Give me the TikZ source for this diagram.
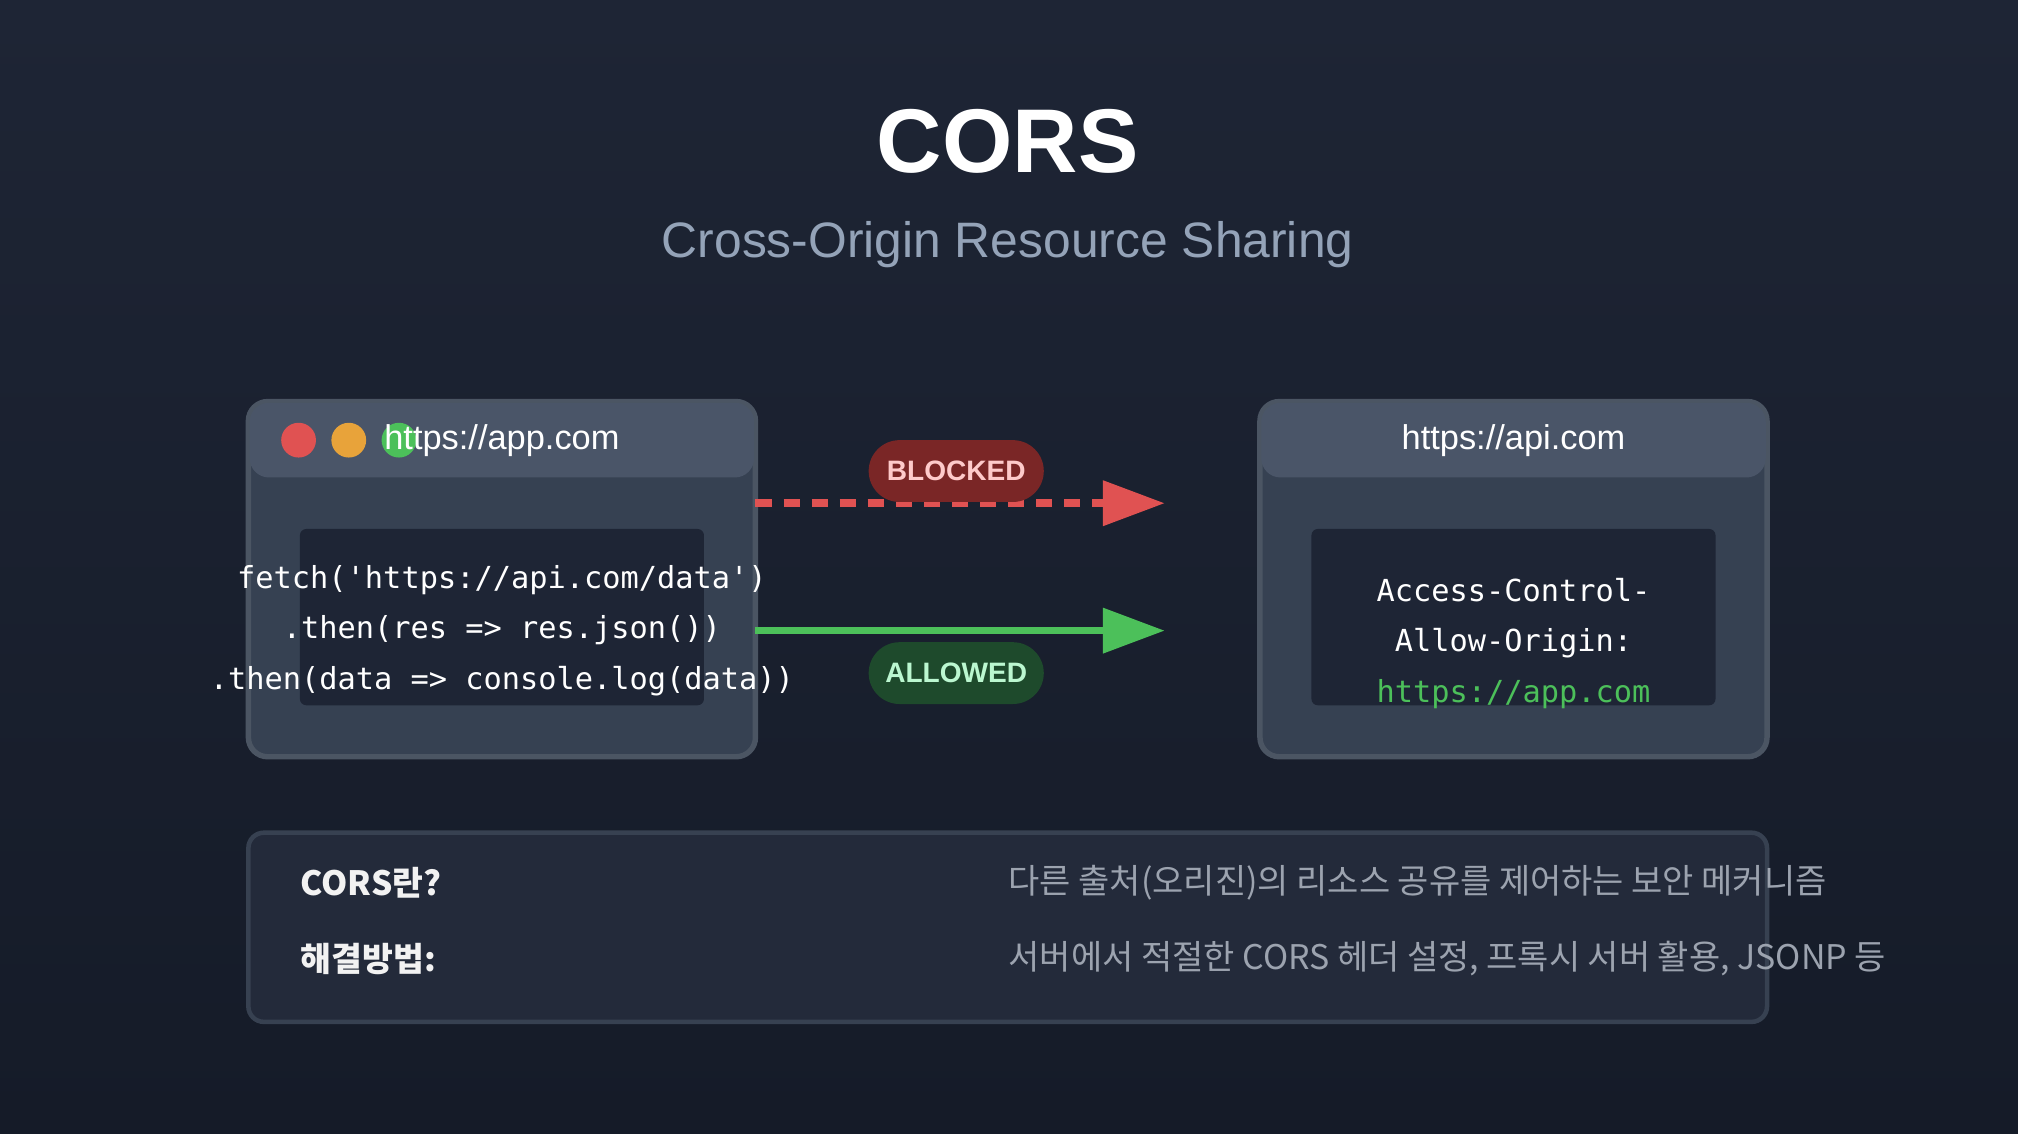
\documentclass[tikz,border=0pt]{standalone}
\usepackage{fontspec}
\setmainfont{Liberation Sans}
\newfontfamily\kr{Noto Sans CJK KR}
\newfontfamily\monof{DejaVu Sans Mono}
\usetikzlibrary{arrows.meta}
\definecolor{bgtop}{HTML}{1E2535}
\definecolor{bgbot}{HTML}{151B28}
\definecolor{win}{HTML}{364152}
\definecolor{winbd}{HTML}{4B5563}
\definecolor{hdr}{HTML}{4A5568}
\definecolor{codebg}{HTML}{1E2535}
\definecolor{sub}{HTML}{94A3B8}
\definecolor{redc}{HTML}{E05252}
\definecolor{orgc}{HTML}{E8A33A}
\definecolor{grnc}{HTML}{4CC05A}
\definecolor{infobg}{HTML}{232A3A}
\definecolor{infobd}{HTML}{374151}
\definecolor{desc}{HTML}{9CA3AF}
\definecolor{blkbg}{HTML}{7A2626}
\definecolor{blktx}{HTML}{FECACA}
\definecolor{alwbg}{HTML}{1E4A2C}
\definecolor{alwtx}{HTML}{BBF7D0}
\tikzset{
  x=0.01cm,y=-0.01cm,
  winbox/.style={draw=winbd,line width=1.2pt,fill=win,rounded corners=0.15cm},
  codebox/.style={fill=codebg,rounded corners=0.05cm},
  urltxt/.style={text=white,font=\fontsize{7.6pt}{9pt}\selectfont},
  codetxt/.style={text=white,font=\monof\fontsize{6.7pt}{11.1pt}\selectfont,align=center},
  pill/.style={rounded corners=0.24cm,minimum width=1.36cm,minimum height=0.48cm,font=\bfseries\fontsize{6.2pt}{7pt}\selectfont},
  lbl/.style={anchor=west,inner sep=0pt,text=white!90!gray,font=\kr\bfseries\fontsize{7.4pt}{9pt}\selectfont},
  dsc/.style={anchor=west,inner sep=0pt,text=desc,font=\kr\fontsize{7.5pt}{9pt}\selectfont},
  dot/.style={circle,minimum size=0.27cm,inner sep=0pt}
}
\begin{document}
\begin{tikzpicture}
\shade[top color=bgtop,bottom color=bgbot] (0,0) rectangle (1568,881);
\useasboundingbox (0,0) rectangle (1568,881);
\node[text=white,font=\bfseries\fontsize{20pt}{24pt}\selectfont] (title) at (783,110) {CORS};
\node[text=sub,font=\fontsize{11pt}{13pt}\selectfont] (subt) at (783,190) {Cross-Origin Resource Sharing};
% left window
\draw[winbox] (193,312) rectangle (587,588);
\fill[hdr,rounded corners=0.15cm] (194,313) rectangle (586,371);
\node[dot,fill=redc] (d1) at (232,342) {};
\node[dot,fill=orgc] (d2) at (271,342) {};
\node[dot,fill=grnc] (d3) at (310,342) {};
\node[urltxt] (lurl) at (390,342) {https://app.com};
\fill[codebox] (233,411) rectangle (547,548);
\node[codetxt] (lcode) at (390,490) {fetch('https://api.com/data')\\.then(res => res.json())\\.then(data => console.log(data))};
% right window
\draw[winbox] (979,312) rectangle (1373,588);
\fill[hdr,rounded corners=0.15cm] (980,313) rectangle (1372,371);
\node[urltxt] (rurl) at (1176,342) {https://api.com};
\fill[codebox] (1019,411) rectangle (1333,548);
\node[codetxt] (rcode) at (1176,500) {Access-Control-\\Allow-Origin:\\\textcolor{grnc}{https://app.com}};
% arrows
\coordinate (bs) at (587,391); \coordinate (be) at (905,391);
\coordinate (as) at (587,490); \coordinate (ae) at (905,490);
\draw[redc,line width=1.7pt,dash pattern=on 3.6pt off 2.6pt,-{Triangle[length=0.48cm,width=0.34cm]}] (bs) -- (be);
\draw[grnc,line width=1.7pt,-{Triangle[length=0.48cm,width=0.34cm]}] (as) -- (ae);
\node[pill,fill=blkbg,text=blktx] (blk) at (743,366) {BLOCKED};
\node[pill,fill=alwbg,text=alwtx] (alw) at (743,523) {ALLOWED};
% info box
\draw[fill=infobg,draw=infobd,line width=1pt,rounded corners=0.12cm] (193,647) rectangle (1373,794);
\node[lbl] (l1) at (233,686) {CORS란?};
\node[lbl] (l2) at (233,745) {해결방법:};
\node[dsc] (t1) at (783,686) {다른 출처(오리진)의 리소스 공유를 제어하는 보안 메커니즘};
\node[dsc] (t2) at (783,745) {서버에서 적절한 CORS 헤더 설정, 프록시 서버 활용, JSONP 등};
\end{tikzpicture}
\end{document}
